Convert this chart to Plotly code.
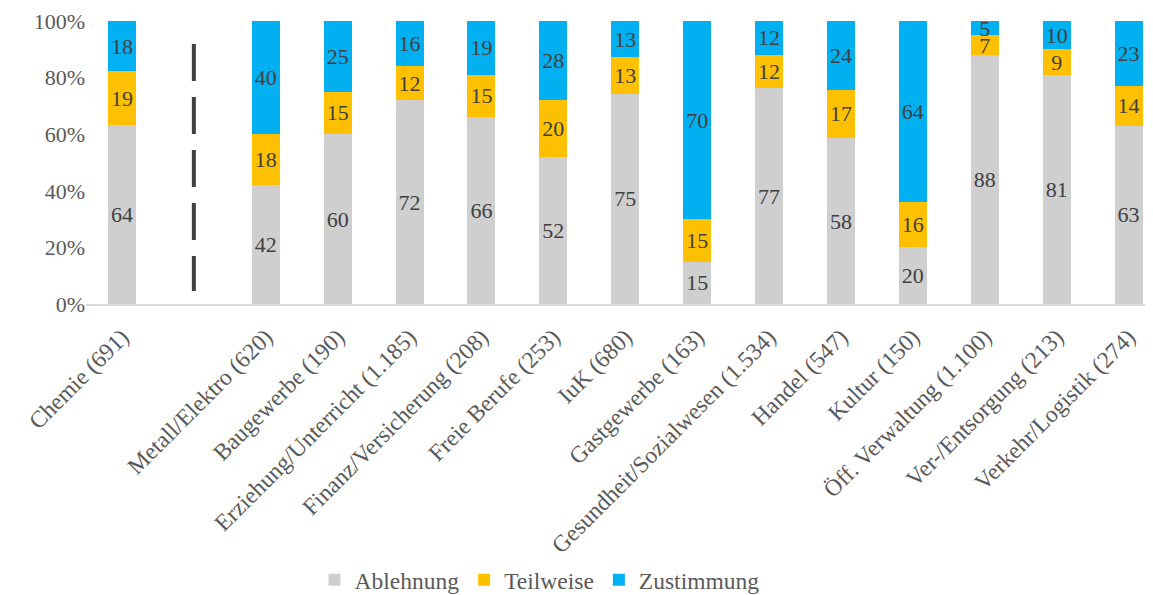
import plotly.graph_objects as go

categories = ["Chemie (691)", "", "Metall/Elektro (620)", "Baugewerbe (190)",
              "Erziehung/Unterricht (1.185)", "Finanz/Versicherung (208)",
              "Freie Berufe (253)", "IuK (680)", "Gastgewerbe (163)",
              "Gesundheit/Sozialwesen (1.534)", "Handel (547)", "Kultur (150)",
              "Öff. Verwaltung (1.100)", "Ver-/Entsorgung (213)", "Verkehr/Logistik (274)"]
ablehnung  = [64, None, 42, 60, 72, 66, 52, 75, 15, 77, 58, 20, 88, 81, 63]
teilweise  = [19, None, 18, 15, 12, 15, 20, 13, 15, 12, 17, 16, 7, 9, 14]
zustimmung = [18, None, 40, 25, 16, 19, 28, 13, 70, 12, 24, 64, 5, 10, 23]

series = [("Ablehnung", ablehnung, "#CFCFCF"),
          ("Teilweise", teilweise, "#FFC000"),
          ("Zustimmung", zustimmung, "#00B0F0")]

FONT = "Liberation Serif, Times New Roman, serif"
pos = list(range(len(categories)))

fig = go.Figure()
for name, vals, col in series:
    fig.add_trace(go.Bar(
        x=pos, y=vals, name=name, marker=dict(color=col, line=dict(width=0)),
        text=vals, texttemplate="%{text}", textposition="inside",
        insidetextanchor="middle", textangle=0,
        textfont=dict(family=FONT, size=22, color="#404040"),
        width=0.39, hoverinfo="skip"))

gap_index = categories.index("")
fig.add_shape(type="line", xref="x", yref="y", x0=gap_index, x1=gap_index,
              y0=0.919, y1=0.046, line=dict(color="#404040", width=4, dash="37px,16px"))

fig.update_layout(
    barmode="stack", barnorm="fraction",
    width=1145, height=587,
    margin=dict(l=78, r=0, t=13, b=291, autoexpand=False),
    paper_bgcolor="white", plot_bgcolor="white",
    font=dict(family=FONT, size=22, color="#595959"),
    uniformtext=dict(minsize=22, mode="show"),
    showlegend=True,
    legend=dict(orientation="h", x=0.425, xanchor="center", y=-0.975, yanchor="middle",
                font=dict(family=FONT, size=23.5, color="#595959"),
                traceorder="normal", itemwidth=30),
)
fig.update_xaxes(range=[-0.5, 14.34], tickmode="array", tickvals=pos, ticktext=categories,
                 tickangle=-45, showline=True, linecolor="#D9D9D9", linewidth=2,
                 showgrid=False, ticks="", zeroline=False, automargin=False,
                 ticklabelstandoff=8,
                 tickfont=dict(family=FONT, size=23.5, color="#595959"))
fig.update_yaxes(range=[0, 1], dtick=0.2, tickformat=".0%", showgrid=False,
                 showline=False, zeroline=False, ticks="", automargin=False,
                 tickfont=dict(family=FONT, size=22, color="#595959"))

fig.write_html("out.html")
